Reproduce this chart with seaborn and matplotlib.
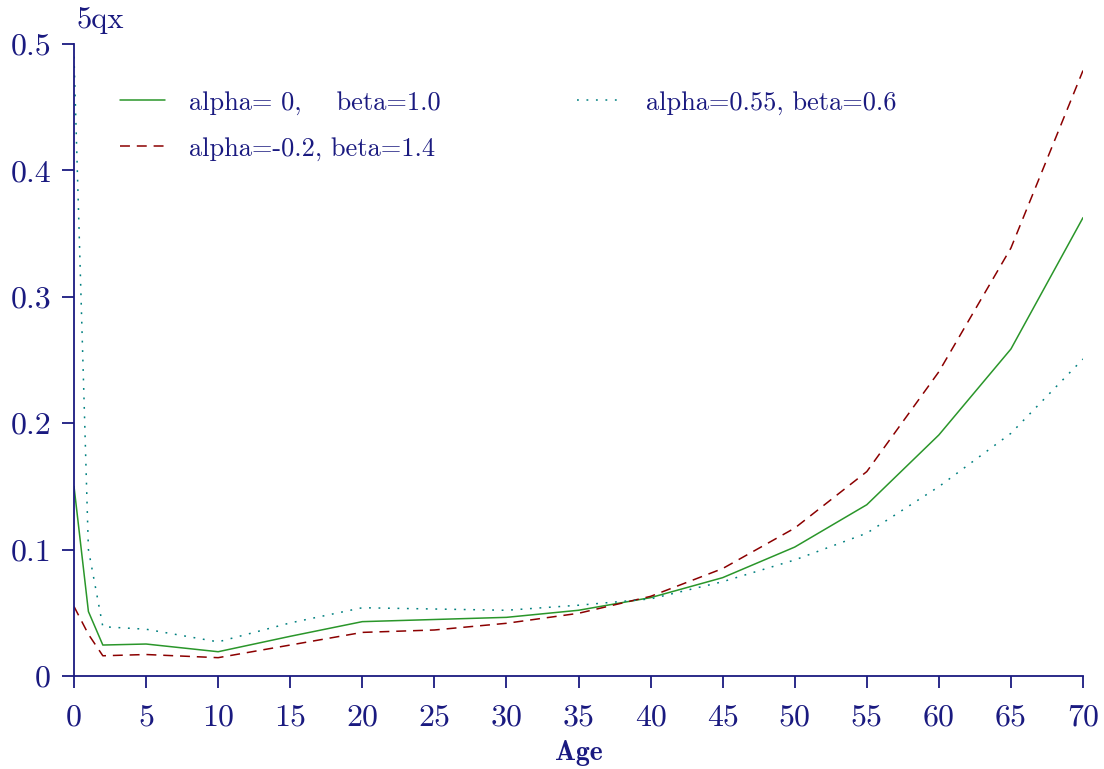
import numpy as np
import pandas as pd
import seaborn as sns
import matplotlib.pyplot as plt
from matplotlib.ticker import FuncFormatter

# ages and 5qx values
ages = [0, 1, 2, 5, 10, 15, 20, 25, 30, 35, 40, 45, 50, 55, 60, 65, 70]
q_std = [0.150, 0.051, 0.0245, 0.0253, 0.0192, 0.0314, 0.043, 0.0447, 0.0464, 0.052,
         0.062, 0.0778, 0.102, 0.1355, 0.1907, 0.2587, 0.3626]
q_neg = [0.055, 0.033, 0.016, 0.017, 0.0145, 0.0245, 0.0345, 0.0364, 0.0417, 0.0496,
         0.063, 0.085, 0.117, 0.1617, 0.2407, 0.3386, 0.479]
q_pos = [0.490, 0.100, 0.039, 0.037, 0.027, 0.042, 0.054, 0.053, 0.052, 0.056,
         0.061, 0.0746, 0.0918, 0.113, 0.1498, 0.192, 0.2508]

labels = ["alpha= 0,    beta=1.0", "alpha=-0.2, beta=1.4", "alpha=0.55, beta=0.6"]

NAVY = "#1a1a80"

sns.set_style("white")
plt.rcParams['font.family'] = ['cmr10', 'DejaVu Serif']
plt.rcParams['axes.unicode_minus'] = False

fig = plt.figure(figsize=(11.04, 7.69), dpi=100)
ax = fig.add_axes([74 / 1104, 1 - 676 / 769, (1083 - 74) / 1104, (676 - 44) / 769])

df = pd.DataFrame({"age": ages, "std": q_std, "neg": q_neg, "pos": q_pos})
sns.lineplot(data=df, x="age", y="std", ax=ax, color="#2a962a", lw=1.1, label=labels[0])
sns.lineplot(data=df, x="age", y="neg", ax=ax, color="#8b0000", lw=1.1,
             linestyle=(0, (6.5, 4.5)), label=labels[1])
sns.lineplot(data=df, x="age", y="pos", ax=ax, color="#008080", lw=1.1,
             linestyle=(0, (1.2, 5)), label=labels[2])

ax.set_xlim(0, 70)
ax.set_ylim(0, 0.5)
ax.set_xticks(range(0, 71, 5))
ax.set_yticks([0, 0.1, 0.2, 0.3, 0.4, 0.5])
ax.yaxis.set_major_formatter(FuncFormatter(lambda v, p: f"{v:g}"))

for s in ["top", "right"]:
    ax.spines[s].set_visible(False)
for s in ["left", "bottom"]:
    ax.spines[s].set_color(NAVY)
    ax.spines[s].set_linewidth(1.3)

ax.tick_params(axis="both", which="major", bottom=True, left=True, direction="out",
               length=8.5, width=1.3, color=NAVY, labelcolor=NAVY, labelsize=23)
ax.tick_params(axis="x", pad=12)
ax.tick_params(axis="y", pad=8)

ax.set_ylabel("")
ax.set_xlabel("Age", fontsize=20, color=NAVY, fontfamily="cmb10", labelpad=6)
ax.text(0.002, 0.0253 + 1, "5qx", transform=ax.transAxes, fontsize=22, color=NAVY,
        ha="left", va="baseline")

leg = ax.legend(loc="upper left", bbox_to_anchor=(0.0456, 0.926), ncol=2, frameon=False,
                fontsize=19, handlelength=1.7, handletextpad=0.9, columnspacing=5.2,
                labelspacing=0.84, borderpad=0, borderaxespad=0)
for t in leg.get_texts():
    t.set_color(NAVY)

fig.savefig("out.png", dpi=100)
